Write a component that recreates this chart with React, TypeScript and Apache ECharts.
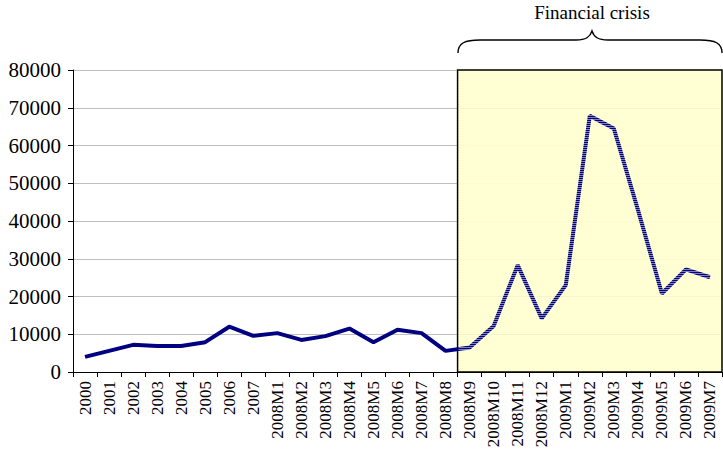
import React, { useEffect, useRef } from "react";
import * as echarts from "echarts";

const categories = [
  "2000", "2001", "2002", "2003", "2004", "2005", "2006", "2007",
  "2008M1", "2008M2", "2008M3", "2008M4", "2008M5", "2008M6", "2008M7", "2008M8",
  "2008M9", "2008M10", "2008M11", "2008M12",
  "2009M1", "2009M2", "2009M3", "2009M4", "2009M5", "2009M6", "2009M7",
];
const values = [
  4000, 5600, 7200, 6900, 6900, 7900, 12000, 9600,
  10300, 8500, 9500, 11500, 7900, 11200, 10300, 5600,
  6500, 12200, 28300, 14200,
  23000, 67900, 64500, 43000, 20800, 27200, 25100,
];
const yTicks = [0, 10000, 20000, 30000, 40000, 50000, 60000, 70000, 80000];
const crisisLabel = "Financial crisis";
const crisisStartIndex = 16; // boundary before 2008M9

const FONT = "Liberation Serif";

function stripePattern(): HTMLCanvasElement {
  const c = document.createElement("canvas");
  c.width = 4;
  c.height = 2;
  const ctx = c.getContext("2d")!;
  ctx.clearRect(0, 0, 4, 2);
  ctx.fillStyle = "rgba(255,255,235,0.5)";
  ctx.fillRect(0, 1, 4, 1);
  return c;
}

export default function App() {
  const ref = useRef<HTMLDivElement>(null);
  useEffect(() => {
    document.body.style.margin = "0";
    if (!ref.current) return;
    const chart = echarts.init(ref.current, undefined, { renderer: "svg" });
    echarts.graphic.registerShape(
      "brace",
      echarts.graphic.extendPath(
        "M458,53 C458,43 465,40 480,40 L576,40 C586,40 590,37 592,31 C594,37 598,40 608,40 L700,40 C715,40 722,43 722,53",
        {}
      )
    );
    const n = categories.length;
    chart.setOption({
      animation: false,
      textStyle: { fontFamily: FONT },
      grid: { left: 73, right: 1, top: 70, bottom: 81, containLabel: false },
      xAxis: [
        {
          type: "category",
          data: categories,
          boundaryGap: true,
          axisLine: { lineStyle: { color: "#000", width: 1 } },
          axisTick: { show: true, length: 5, lineStyle: { color: "#000" } },
          axisLabel: {
            rotate: 90,
            interval: 0,
            margin: 9,
            color: "#000",
            fontFamily: FONT,
            fontSize: 17,
          },
          splitLine: { show: false },
        },
        {
          type: "value",
          min: 0,
          max: n,
          show: false,
          position: "bottom",
        },
      ],
      yAxis: {
        type: "value",
        min: 0,
        max: 80000,
        interval: 10000,
        axisLine: { show: true, lineStyle: { color: "#000", width: 1 } },
        axisTick: { show: true, length: 5, lineStyle: { color: "#000" } },
        axisLabel: {
          color: "#000",
          fontFamily: FONT,
          fontSize: 21,
          margin: 12,
          formatter: (v: number) => (yTicks.includes(v) ? String(v) : ""),
        },
        splitLine: { show: true, lineStyle: { color: "#bfbfbf", width: 1 } },
      },
      series: [
        {
          type: "line",
          xAxisIndex: 1,
          yAxisIndex: 0,
          data: [],
          z: 1,
          silent: true,
          markArea: {
            silent: true,
            itemStyle: {
              color: "rgba(255,255,195,0.85)",
              borderColor: "#000",
              borderWidth: 1.5,
              borderType: "solid",
            },
            data: [[{ xAxis: crisisStartIndex, yAxis: 0 }, { xAxis: n, yAxis: 80000 }]],
          },
        },
        {
          type: "line",
          data: values,
          z: 3,
          symbol: "none",
          lineStyle: { color: "#000080", width: 4 },
          itemStyle: { color: "#000080" },
        },
      ],
    });
    const p1 = chart.convertToPixel({ xAxisIndex: 1, yAxisIndex: 0 }, [crisisStartIndex, 80000]) as number[];
    const p2 = chart.convertToPixel({ xAxisIndex: 1, yAxisIndex: 0 }, [n, 0]) as number[];
    chart.setOption({
      graphic: [
        {
          type: "rect",
          z: 100,
          silent: true,
          shape: { x: p1[0] + 1, y: p1[1] + 1, width: p2[0] - p1[0] - 2, height: p2[1] - p1[1] - 2 },
          style: { fill: { image: stripePattern(), repeat: "repeat" } as any },
        },
        {
          type: "brace",
          shape: {},
          style: { fill: "none", stroke: "#000", lineWidth: 1.4 },
          silent: true,
        },
        {
          type: "text",
          x: 592,
          y: 12,
          style: {
            text: crisisLabel,
            fontFamily: FONT,
            fontSize: 19,
            fill: "#000",
            align: "center",
            verticalAlign: "middle",
          },
        },
      ],
    });
    return () => chart.dispose();
  }, []);
  return <div ref={ref} style={{ width: 723, height: 453 }} />;
}
